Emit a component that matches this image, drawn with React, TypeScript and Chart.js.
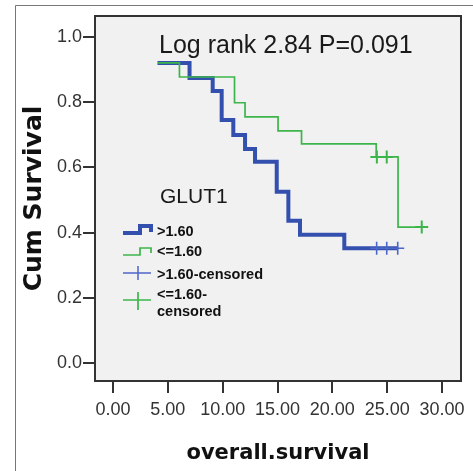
import React, { useEffect, useRef } from 'react';
import { Chart, registerables } from 'chart.js';

Chart.register(...registerables);

// ---- data ----
const blueTimes = [4.06, 6.98, 9.09, 9.91, 10.97, 12.04, 12.95, 14.93, 15.99, 17.05, 21.09, 26.0];
const blueSurv = [0.92, 0.874, 0.834, 0.745, 0.699, 0.656, 0.617, 0.525, 0.436, 0.393, 0.352, 0.352];
const greenTimes = [4.1, 6.06, 11.08, 12.04, 15.05, 17.19, 24.0, 25.99, 28.15];
const greenSurv = [0.92, 0.877, 0.798, 0.755, 0.712, 0.672, 0.632, 0.417, 0.417];
const blueCensorTimes = [24.04, 24.96, 25.96];
const blueCensorSurv = [0.352, 0.352, 0.352];
const greenCensorTimes = [24.06, 24.96, 28.15];
const greenCensorSurv = [0.632, 0.632, 0.417];
const xTicks = [0, 5, 10, 15, 20, 25, 30];
const yTicks = [0, 0.2, 0.4, 0.6, 0.8, 1.0];
const seriesLabels = ['>1.60', '<=1.60', '>1.60-censored', '<=1.60-\ncensored'];
const legendTitle = 'GLUT1';
const annotationText = 'Log rank 2.84 P=0.091';
const xTitle = 'overall.survival';
const yTitle = 'Cum Survival';

const BLUE = '#3450ae';
const BLUE_C = '#4d66c9';
const GREEN = '#3db54a';

const toXY = (xs: number[], ys: number[]) => xs.map((x, i) => ({ x, y: ys[i] }));

const customPlugin = {
  id: 'customDecor',
  beforeDraw(chart: any) {
    const { ctx, chartArea: a, width, height } = chart;
    ctx.save();
    ctx.fillStyle = '#ffffff';
    ctx.fillRect(0, 0, width, height);
    // outer frame
    ctx.strokeStyle = '#777';
    ctx.lineWidth = 1;
    ctx.beginPath();
    ctx.moveTo(15.5, height);
    ctx.lineTo(15.5, 5.5);
    ctx.lineTo(width, 5.5);
    ctx.stroke();
    // plot background
    ctx.fillStyle = '#f1f1f1';
    ctx.fillRect(a.left, a.top, a.right - a.left, a.bottom - a.top);
    ctx.restore();
  },
  afterDraw(chart: any) {
    const { ctx, chartArea: a } = chart;
    ctx.save();
    // plot border
    ctx.strokeStyle = '#333';
    ctx.lineWidth = 2;
    ctx.strokeRect(a.left, a.top, a.right - a.left, a.bottom - a.top);

    // annotation
    ctx.fillStyle = '#1a1a1a';
    ctx.font = '25px "Liberation Sans", Arial, sans-serif';
    ctx.textBaseline = 'alphabetic';
    ctx.textAlign = 'left';
    ctx.fillText(annotationText, a.left + 64, a.top + 37);

    // legend title
    ctx.font = '21px "Liberation Sans", Arial, sans-serif';
    ctx.fillText(legendTitle, a.left + 65, a.top + 187);

    // legend symbols
    const sx = a.left + 28;
    ctx.lineJoin = 'miter';
    // blue step
    ctx.strokeStyle = BLUE;
    ctx.lineWidth = 4;
    ctx.beginPath();
    ctx.moveTo(sx, a.top + 217);
    ctx.lineTo(sx + 17, a.top + 217);
    ctx.lineTo(sx + 17, a.top + 210);
    ctx.lineTo(sx + 28, a.top + 210);
    ctx.lineTo(sx + 28, a.top + 216);
    ctx.stroke();
    // green step
    ctx.strokeStyle = GREEN;
    ctx.lineWidth = 1.7;
    ctx.beginPath();
    ctx.moveTo(sx, a.top + 239);
    ctx.lineTo(sx + 17, a.top + 239);
    ctx.lineTo(sx + 17, a.top + 232);
    ctx.lineTo(sx + 28, a.top + 232);
    ctx.lineTo(sx + 28, a.top + 237);
    ctx.stroke();
    // blue censor
    ctx.strokeStyle = BLUE_C;
    ctx.lineWidth = 1.5;
    ctx.beginPath();
    ctx.moveTo(sx, a.top + 257);
    ctx.lineTo(sx + 28, a.top + 257);
    ctx.moveTo(sx + 15, a.top + 250);
    ctx.lineTo(sx + 15, a.top + 264);
    ctx.stroke();
    // green censor
    ctx.strokeStyle = GREEN;
    ctx.lineWidth = 1.7;
    ctx.beginPath();
    ctx.moveTo(sx, a.top + 284);
    ctx.lineTo(sx + 28, a.top + 284);
    ctx.moveTo(sx + 15, a.top + 276);
    ctx.lineTo(sx + 15, a.top + 294);
    ctx.stroke();

    // legend text
    ctx.fillStyle = '#111';
    ctx.font = 'bold 14.5px "Liberation Sans", Arial, sans-serif';
    ctx.textBaseline = 'middle';
    const tx = a.left + 62;
    const rows = [215.5, 236, 259, 279];
    seriesLabels.forEach((lab, i) => {
      lab.split('\n').forEach((line, j) => {
        ctx.fillText(line, tx, a.top + rows[i] + j * 17);
      });
    });
    ctx.restore();
  },
};

export default function App() {
  const ref = useRef<HTMLCanvasElement | null>(null);
  useEffect(() => {
    if (!ref.current) return;
    const chart = new Chart(ref.current, {
      type: 'line',
      data: {
        datasets: [
          {
            label: seriesLabels[2],
            data: toXY(blueCensorTimes, blueCensorSurv),
            showLine: false,
            pointStyle: 'cross',
            pointRadius: 6.5,
            pointBorderWidth: 1.6,
            borderColor: BLUE_C,
            backgroundColor: BLUE_C,
            order: 0,
          },
          {
            label: seriesLabels[3],
            data: toXY(greenCensorTimes, greenCensorSurv),
            showLine: false,
            pointStyle: 'cross',
            pointRadius: 6.5,
            pointBorderWidth: 2,
            borderColor: GREEN,
            backgroundColor: GREEN,
            order: 1,
          },
          {
            label: seriesLabels[1],
            data: toXY(greenTimes, greenSurv),
            stepped: true,
            borderColor: GREEN,
            borderWidth: 1.7,
            pointRadius: 0,
            fill: false,
            order: 2,
          },
          {
            label: seriesLabels[0],
            data: toXY(blueTimes, blueSurv),
            stepped: true,
            borderColor: BLUE,
            borderWidth: 4,
            pointRadius: 0,
            fill: false,
            borderJoinStyle: 'miter',
            order: 3,
          },
        ],
      },
      options: {
        animation: false,
        responsive: false,
        maintainAspectRatio: false,
        layout: { padding: { left: 0, top: 16, right: 12, bottom: 0 } },
        plugins: { legend: { display: false }, tooltip: { enabled: false }, title: { display: false } },
        scales: {
          x: {
            type: 'linear',
            min: -1.64,
            max: 31.73,
            afterBuildTicks: (s: any) => {
              s.ticks = xTicks.map((v) => ({ value: v }));
            },
            afterFit: (s: any) => {
              s.height = 90;
            },
            ticks: {
              callback: (v: any) => Number(v).toFixed(2),
              font: { family: '"Liberation Sans", Arial, sans-serif', size: 18 },
              color: '#333',
              padding: 6,
              maxRotation: 0,
              autoSkip: false,
            },
            grid: { drawOnChartArea: false, drawTicks: true, tickLength: 12, color: '#333', lineWidth: 2 },
            border: { display: false },
            title: {
              display: true,
              text: xTitle,
              font: { family: '"DejaVu Sans", Verdana, sans-serif', size: 21, weight: 'bold' },
              color: '#111',
              padding: { top: 0, bottom: 5 },
            },
          },
          y: {
            type: 'linear',
            min: -0.055,
            max: 1.064,
            afterBuildTicks: (s: any) => {
              s.ticks = yTicks.map((v) => ({ value: v }));
            },
            afterFit: (s: any) => {
              s.width = 95;
            },
            ticks: {
              callback: (v: any) => Number(v).toFixed(1),
              font: { family: '"Liberation Sans", Arial, sans-serif', size: 18 },
              color: '#333',
              padding: 1,
              autoSkip: false,
            },
            grid: { drawOnChartArea: false, drawTicks: true, tickLength: 12, color: '#333', lineWidth: 2 },
            border: { display: false },
            title: {
              display: true,
              text: yTitle,
              font: { family: '"DejaVu Sans", Verdana, sans-serif', size: 25, weight: 'bold' },
              color: '#111',
              padding: { top: 19, bottom: 0 },
            },
          },
        },
      },
      plugins: [customPlugin],
    });
    return () => chart.destroy();
  }, []);
  return (
    <div style={{ position: 'absolute', left: 0, top: 0, width: 473, height: 471 }}>
      <canvas ref={ref} width={473} height={471} style={{ display: 'block', width: 473, height: 471 }} />
    </div>
  );
}
